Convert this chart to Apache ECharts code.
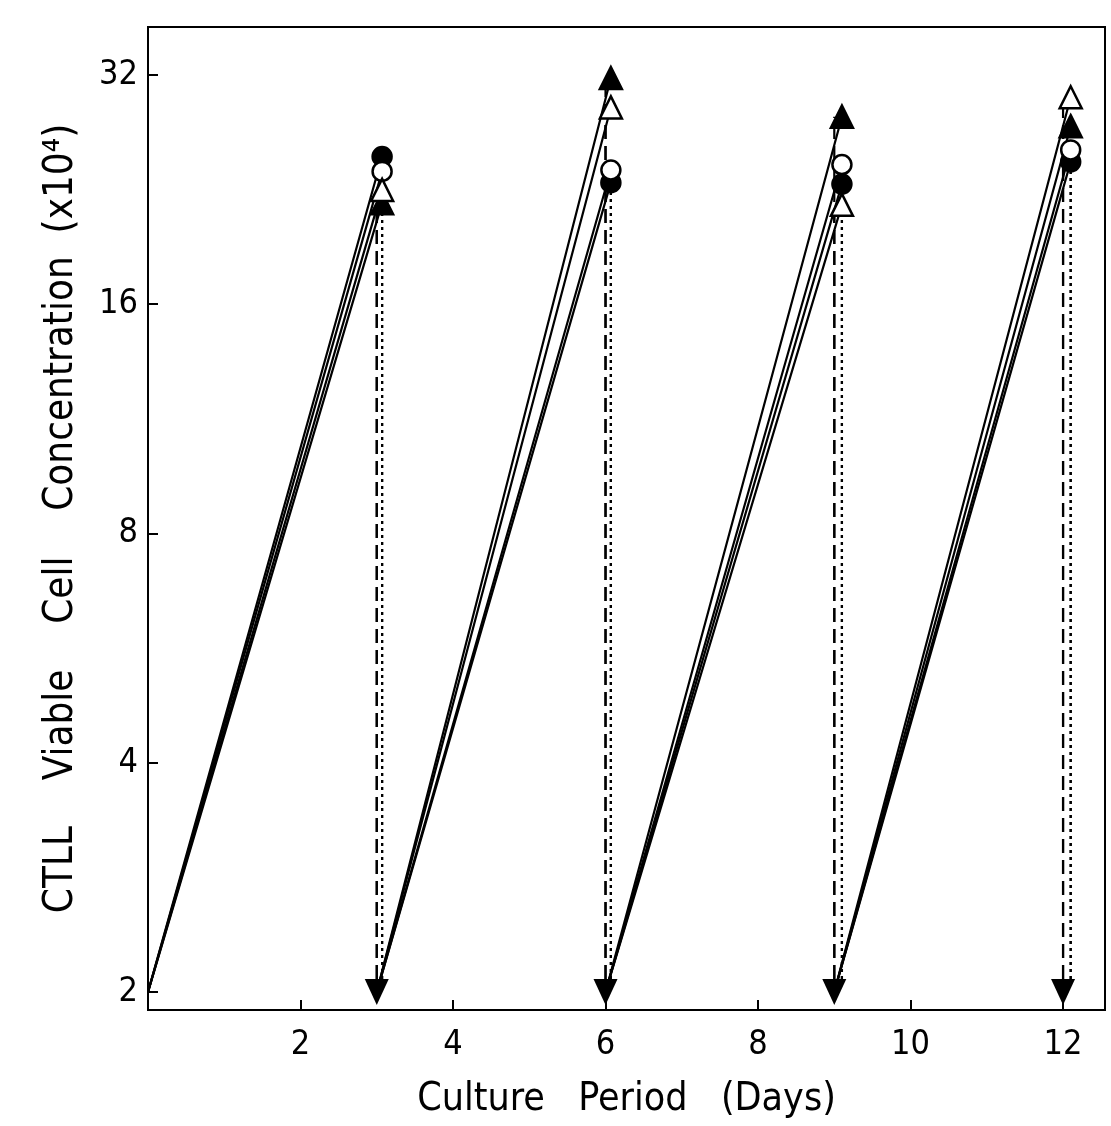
<!DOCTYPE html>
<html>
<head>
<meta charset="utf-8">
<script src="https://cdn.jsdelivr.net/npm/echarts@6/dist/echarts.min.js"></script>
<style>
	html, body { margin: 0; padding: 0; background: #fff; }
	#chart { width: 1111px; height: 1126px; }
</style>
</head>
<body>
<div id="chart"></div>
<script>
// culture days where cells were split back to 2 x10^4
const splitDays = [ 0, 3, 6, 9, 12 ];
// day each peak count was read (markers sit a bit right of the split line)
const peakDays = [ 3.07, 6.07, 9.1, 12.1 ];
const startValue = 2;

// peak viable cell concentration (x10^4) per series
const filledCircle = [ 25.0, 23.1, 23.0, 24.6 ];
const openCircle = [ 23.9, 24.0, 24.4, 25.5 ];
const filledTriangle = [ 21.7, 31.7, 28.2, 27.4 ];
const openTriangle = [ 22.6, 29.0, 21.6, 29.9 ];

const xTicks = [ 2, 4, 6, 8, 10, 12 ];
const yTicks = [ 2, 4, 8, 16, 32 ];

const font = "'DejaVu Sans Condensed', 'DejaVu Sans', sans-serif";

/* solid growth lines: from split value up to the peak */
function growthData( peaks ) {
	const out = [];
	peaks.forEach( ( p, i ) => {
		if ( i > 0 ) out.push( [ splitDays[i], "-" ] );
		out.push( [ splitDays[i], startValue ] );
		out.push( [ peakDays[i], p ] );
	} );
	return out;
}

/* vertical dashed drop from peak back to split value (drawn bottom-up so dashes line up) */
function dropData( peaks, useSplitDay ) {
	const out = [];
	peaks.forEach( ( p, i ) => {
		const x = useSplitDay ? splitDays[i + 1] : peakDays[i];
		if ( i > 0 ) out.push( [ x, "-" ] );
		out.push( [ x, startValue * 1.04 ] );
		out.push( [ x, p ] );
	} );
	return out;
}

const seriesDefs = [
	{ name: "filled circle", data: filledCircle, symbol: "circle", fill: "#000", dash: [ 3, 4 ], onSplit: false },
	{ name: "open circle", data: openCircle, symbol: "circle", fill: "#fff", dash: [ 3, 4 ], onSplit: false },
	{ name: "filled triangle", data: filledTriangle, symbol: "triangle", fill: "#000", dash: [ 14, 7 ], onSplit: true },
	{ name: "open triangle", data: openTriangle, symbol: "triangle", fill: "#fff", dash: [ 14, 7 ], onSplit: true }
];

const series = [];
seriesDefs.forEach( s => {
	series.push( {
		type: "line",
		data: growthData( s.data ),
		showSymbol: false,
		connectNulls: false,
		lineStyle: { color: "#000", width: 2.2 },
		silent: true,
		z: 2
	} );
	series.push( {
		type: "line",
		data: dropData( s.data, s.onSplit ),
		showSymbol: false,
		connectNulls: false,
		lineStyle: { color: "#000", width: 2.2, type: s.dash },
		silent: true,
		z: 2
	} );
} );
seriesDefs.forEach( s => {
	series.push( {
		name: s.name,
		type: "scatter",
		data: s.data.map( ( p, i ) => [ peakDays[i], p ] ),
		symbol: s.symbol,
		symbolSize: s.symbol === "circle" ? 19 : 22,
		itemStyle: { color: s.fill, borderColor: "#000", borderWidth: 2.5, opacity: 1 },
		z: 4
	} );
} );
// split arrows pointing down at the restart value
series.push( {
	type: "scatter",
	data: splitDays.slice( 1 ).map( d => [ d, startValue ] ),
	symbol: "triangle",
	symbolRotate: 180,
	symbolSize: [ 24, 26 ],
	itemStyle: { color: "#000", opacity: 1 },
	z: 5
} );

const chart = echarts.init( document.getElementById( "chart" ) );
chart.setOption( {
	animation: false,
	backgroundColor: "#fff",
	grid: {
		left: 148,
		right: 6,
		top: 27,
		bottom: 116,
		show: true,
		borderColor: "#000",
		borderWidth: 2
	},
	xAxis: {
		type: "value",
		min: 0,
		max: 12.55,
		interval: 2,
		name: "Culture   Period   (Days)",
		nameLocation: "middle",
		nameGap: 70,
		nameTextStyle: { fontFamily: font, fontSize: 39, color: "#000" },
		axisLine: { lineStyle: { color: "#000", width: 2 } },
		axisTick: { inside: true, length: 10, lineStyle: { color: "#000", width: 2 } },
		axisLabel: {
			fontFamily: font, fontSize: 34, color: "#000", margin: 18,
			showMinLabel: false, showMaxLabel: false,
			formatter: v => xTicks.includes( v ) ? String( v ) : ""
		},
		splitLine: { show: false }
	},
	yAxis: {
		type: "log",
		logBase: 2,
		min: 1.894,
		max: 36.98,
		name: "CTLL    Viable    Cell    Concentration  (x10⁴)",
		nameLocation: "middle",
		nameGap: 66,
		nameTextStyle: { fontFamily: font, fontSize: 40, color: "#000" },
		axisLine: { lineStyle: { color: "#000", width: 2 } },
		axisTick: { inside: true, length: 10, lineStyle: { color: "#000", width: 2 } },
		axisLabel: {
			fontFamily: font, fontSize: 34, color: "#000", margin: 10,
			showMinLabel: false, showMaxLabel: false,
			formatter: v => {
				const r = Math.round( v );
				return yTicks.includes( r ) && Math.abs( v - r ) < 0.01 ? String( r ) : "";
			}
		},
		splitLine: { show: false }
	},
	series
} );
</script>
</body>
</html>
